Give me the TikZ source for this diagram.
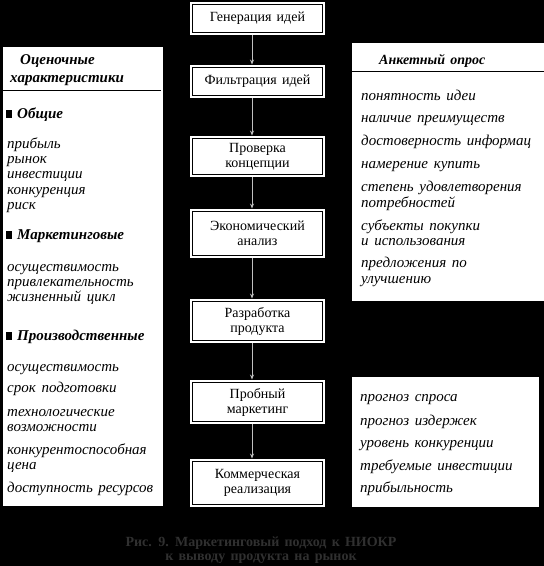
\documentclass[tikz,border=0pt]{standalone}
\usepackage{fontspec}
\setmainfont[WordSpace=1.5]{Liberation Serif}
\usetikzlibrary{arrows.meta}
\definecolor{capgray}{HTML}{303030}
\definecolor{arrgray}{HTML}{C0C0C0}
\begin{document}
\begin{tikzpicture}[x=1pt,y=-1pt,
  stage/.style={draw=black, line width=0.9pt, fill=white,
    preaction={draw=white, line width=5pt},
    minimum width=130pt, align=center, inner sep=0pt,
    font=\fontsize{14}{15}\selectfont},
  panel/.style={fill=white, draw=none, inner sep=0pt, anchor=north west},
  item/.style={anchor=base west, inner sep=0pt, text height=10pt, text depth=3pt,
    font=\fontsize{15}{15}\selectfont\itshape},
  head/.style={anchor=base west, inner sep=0pt, text height=10pt, text depth=3pt,
    font=\fontsize{15}{15}\selectfont\bfseries\itshape},
  bullet/.style={fill=black, draw=none, inner sep=0pt, minimum width=6pt, minimum height=8pt},
  flow/.style={draw=arrgray, line width=0.8pt, shorten <=2.5pt, shorten >=2.5pt,
    -{Stealth[length=5pt,width=4pt]}},
  rule/.style={draw=black, line width=0.8pt}
]
\fill[black] (0,0) rectangle (544,566);
\useasboundingbox (0,0) rectangle (544,566);

% central stages
\node[stage, minimum height=28pt] (g1) at (257.5,18.5) {Генерация идей};
\node[stage, minimum height=28pt] (g2) at (257.5,81.5) {Фильтрация идей};
\node[stage, minimum height=36pt] (g3) at (257.5,156.5) {Проверка\\концепции};
\node[stage, minimum height=44pt] (g4) at (257.5,233.5) {Экономический\\анализ};
\node[stage, minimum height=39pt] (g5) at (257.5,321) {Разработка\\продукта};
\node[stage, minimum height=39pt] (g6) at (257.5,402) {Пробный\\маркетинг};
\node[stage, minimum height=43pt] (g7) at (257.5,483) {Коммерческая\\реализация};

\coordinate (ax) at (252,0);
\foreach \a/\b in {g1/g2,g2/g3,g3/g4,g4/g5,g5/g6,g6/g7}
  \draw[flow] (\a.south -| ax) -- (\b.north -| ax);

% left panel
\node[panel, minimum width=160pt, minimum height=459pt] (lp) at (3,47) {};
\coordinate (lpr) at (161,90);
\draw[rule] (lp.west |- lpr) -- (lpr);
\node[head] (lh1) at (20,64) {Оценочные};
\node[head] (lh2) at (10,82) {характеристики};
\foreach \t/\y [count=\i] in {Общие/114, Маркетинговые/235, Производственные/336}{
  \node[bullet] (lb\i) at (8.5,\y) {};
  \node[head] (lg\i) at (17,\y+4.5) {\t};
}
\foreach \t/\y [count=\i] in {прибыль/144, рынок/159, инвестиции/174,
  конкуренция/190, риск/205, осуществимость/267, привлекательность/282,
  жизненный цикл/297, осуществимость/367, срок подготовки/388,
  технологические/412, возможности/427, конкурентоспособная/450,
  цена/465, доступность ресурсов/488}
  \node[item] (li\i) at (7,\y+4) {\t};

% right top panel
\node[panel, minimum width=192pt, minimum height=258pt] (rp) at (352,43) {};
\coordinate (rpr) at (544,71);
\draw[rule] (rp.west |- rpr) -- (rpr);
\node[head, font=\fontsize{14}{15}\selectfont\bfseries\itshape] (rh) at (379,64) {Анкетный опрос};
\foreach \t/\y [count=\i] in {понятность идеи/96, наличие преимуществ/118,
  достоверность информац/141, намерение купить/164,
  степень удовлетворения/187, потребностей/203, субъекты покупки/226,
  и использования/241, предложения по/263, улучшению/279}
  \node[item] (ri\i) at (361,\y+4) {\t};

% right bottom panel
\node[panel, minimum width=187pt, minimum height=130pt] (rb) at (352,377) {};
\foreach \t/\y [count=\i] in {прогноз спроса/397, прогноз издержек/421,
  уровень конкуренции/443, требуемые инвестиции/466, прибыльность/488}
  \node[item] (rj\i) at (360,\y+4) {\t};

% caption
\node[font=\fontsize{14}{14}\selectfont\bfseries, text=capgray, align=center, inner sep=0pt]
  (cap) at (261,550) {Рис. 9. Маркетинговый подход к НИОКР\\к выводу продукта на рынок};
\end{tikzpicture}
\end{document}
